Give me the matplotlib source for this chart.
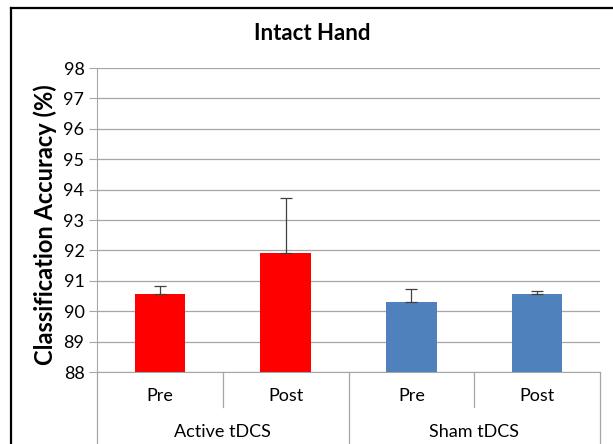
import matplotlib
matplotlib.use("Agg")
import matplotlib.pyplot as plt
from matplotlib.lines import Line2D

plt.rcParams['font.family'] = ['Lato', 'DejaVu Sans']

conditions = ['Pre', 'Post', 'Pre', 'Post']
groups = ['Active tDCS', 'Sham tDCS']
accuracy = [90.56, 91.90, 90.29, 90.58]
err_upper = [0.28, 1.82, 0.43, 0.08]
colors = ['#ff0000', '#ff0000', '#4f81bd', '#4f81bd']

fig = plt.figure(figsize=(6.13, 4.44), dpi=100)
ax = fig.add_axes([97 / 613, 1 - 372 / 444, 503 / 613, 304 / 444])

x = list(range(len(accuracy)))
ax.bar(x, [a - 88 for a in accuracy], bottom=88, width=0.4, color=colors, zorder=3)
ax.errorbar(x, accuracy, yerr=[[0] * 4, err_upper], fmt='none', ecolor='#404040',
            elinewidth=0.9, capsize=4, capthick=0.9, zorder=4)

ax.set_xlim(-0.5, 3.5)
ax.set_ylim(88, 98)
ax.set_yticks(range(88, 99))
ax.yaxis.grid(True, color='#a6a6a6', linewidth=0.9, zorder=0)
ax.set_axisbelow(True)
for s in ['top', 'right']:
    ax.spines[s].set_visible(False)
ax.spines['left'].set_color('#a6a6a6')
ax.spines['bottom'].set_color('#a6a6a6')
ax.tick_params(axis='y', length=6, color='#a6a6a6', labelsize=13, pad=3)
ax.tick_params(axis='x', length=0, labelbottom=False)

trans = ax.get_xaxis_transform()
for i, c in enumerate(conditions):
    ax.text(i, -0.079, c, transform=trans, ha='center', va='center', fontsize=13)
for g, xc in zip(groups, [0.5, 2.5]):
    ax.text(xc, -0.197, g, transform=trans, ha='center', va='center', fontsize=13)
for xs in [0.5, 2.5]:
    ax.add_line(Line2D([xs, xs], [0, -0.115], transform=trans, color='#a6a6a6',
                       linewidth=0.9, clip_on=False))
for xs in [-0.5, 1.5, 3.5]:
    ax.add_line(Line2D([xs, xs], [0, -0.25], transform=trans, color='#a6a6a6',
                       linewidth=0.9, clip_on=False))

fig.text(0.51, 1 - 34 / 444, 'Intact Hand', ha='center', va='center',
         fontsize=16, fontweight='bold')
fig.text(45 / 613, 1 - 225 / 444, 'Classification Accuracy (%)', ha='center',
         va='center', rotation=90, fontsize=17, fontweight='bold')

# outer chart frame (left and top edges visible)
fig.add_artist(Line2D([11 / 613, 11 / 613], [0, 1 - 8 / 444], transform=fig.transFigure,
                      color='black', linewidth=1.6))
fig.add_artist(Line2D([11 / 613, 1], [1 - 8 / 444, 1 - 8 / 444], transform=fig.transFigure,
                      color='black', linewidth=1.6))

fig.savefig('out.png', dpi=100)
